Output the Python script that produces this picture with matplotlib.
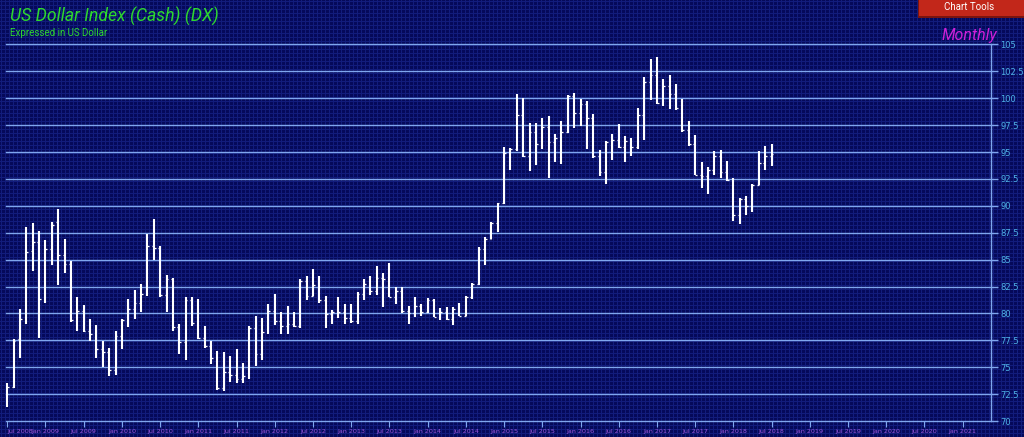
# US Dollar Index (DX) monthly OHLC bars, Jul 2008 - Jul 2018
import matplotlib.pyplot as plt
from matplotlib.patches import Rectangle
import numpy as np

# monthly OHLC, starting Jul 2008
opens = [72.5, 73.2, 77.6, 79.5, 85.8, 86.6,
         81.3, 86.0, 88.5, 85.4, 84.6, 79.4, 80.2, 78.4, 78.1, 76.7, 76.4, 74.7,
         77.9, 79.4, 80.4, 81.0, 81.8, 86.3, 86.1, 81.7, 83.2, 78.7, 77.3, 81.2,
         79.1, 77.7, 77.0, 75.9, 73.1, 74.6, 74.3, 73.9, 74.2, 78.6, 76.2, 78.3,
         80.2, 79.3, 78.8, 79.0, 78.8, 83.0, 81.6, 82.6, 81.2, 79.9, 80.1, 80.1,
         79.6, 79.3, 81.8, 82.7, 82.1, 83.3, 83.2, 81.5, 82.1, 80.2, 80.0, 80.7,
         80.1, 81.2, 79.7, 80.1, 79.5, 80.4, 79.8, 81.5, 82.7, 86.0, 86.9, 88.4,
         90.3, 94.9, 95.3, 98.4, 94.6, 96.9, 95.7, 97.3, 95.9, 96.3, 96.9, 100.2,
         98.6, 99.5, 98.2, 94.6, 93.1, 95.9, 96.1, 95.5, 96.0, 95.5, 98.4, 101.5,
         102.2, 99.6, 101.1, 100.4, 99.1, 97.0, 95.7, 92.9, 92.8, 93.3, 94.6, 93.1,
         92.4, 89.1, 90.6, 90.0, 91.9, 94.0, 94.6]
highs = [73.5, 77.6, 80.4, 88.0, 88.4, 87.7,
         86.8, 88.5, 89.7, 86.9, 84.9, 81.5, 80.8, 79.5, 78.9, 77.4, 76.8, 78.4,
         79.5, 81.3, 82.2, 82.7, 87.4, 88.8, 86.3, 83.6, 83.3, 79.0, 81.5, 81.5,
         81.3, 78.8, 77.4, 76.5, 76.4, 76.0, 76.7, 75.4, 78.8, 79.8, 79.6, 80.9,
         81.8, 80.1, 80.7, 80.1, 83.2, 83.5, 84.1, 83.5, 81.6, 80.3, 81.5, 80.9,
         80.9, 82.0, 83.2, 83.5, 84.4, 83.8, 84.7, 82.5, 82.5, 80.7, 81.5, 80.9,
         81.4, 81.3, 80.5, 80.6, 80.6, 81.0, 81.6, 82.8, 86.2, 87.1, 88.5, 90.3,
         95.5, 95.4, 100.4, 100.0, 97.7, 97.7, 98.2, 98.3, 96.7, 97.9, 100.3, 100.5,
         99.9, 99.7, 98.5, 95.2, 96.0, 96.7, 97.6, 96.5, 96.3, 99.1, 102.0, 103.6,
         103.8, 101.8, 102.2, 101.3, 99.9, 97.9, 96.6, 94.1, 93.6, 95.1, 95.2, 94.2,
         92.6, 90.7, 90.9, 92.0, 95.1, 95.6, 95.7]
lows = [71.3, 73.1, 75.9, 79.0, 83.9, 77.7,
        81.0, 84.5, 82.6, 83.8, 79.2, 78.4, 78.3, 77.4, 75.9, 75.0, 74.2, 74.3,
        76.7, 78.7, 79.5, 80.1, 81.6, 85.0, 81.5, 80.1, 78.4, 76.2, 75.7, 78.8,
        77.6, 76.8, 75.3, 72.9, 72.8, 73.6, 73.5, 73.5, 73.9, 75.1, 75.7, 78.1,
        78.9, 78.1, 78.1, 78.7, 78.6, 81.2, 81.6, 81.0, 78.6, 79.0, 79.6, 79.0,
        79.1, 79.0, 81.2, 81.7, 81.7, 80.6, 81.5, 80.9, 80.0, 79.0, 79.7, 79.8,
        80.0, 79.7, 79.4, 79.4, 78.9, 79.8, 79.8, 81.3, 82.6, 84.5, 86.9, 87.6,
        90.2, 93.3, 95.1, 94.5, 93.2, 93.8, 95.3, 92.6, 94.1, 93.9, 96.8, 97.2,
        97.4, 95.3, 94.4, 92.8, 92.0, 94.3, 95.4, 94.1, 94.6, 95.3, 96.1, 99.8,
        99.5, 99.3, 99.0, 98.9, 96.9, 95.6, 92.9, 91.7, 91.1, 92.9, 92.6, 92.3,
        88.6, 88.3, 89.1, 89.4, 91.9, 93.3, 93.7]
closes = [73.2, 77.4, 79.5, 85.7, 86.6, 81.3,
          86.0, 88.2, 85.4, 84.6, 79.4, 80.2, 78.4, 78.1, 76.7, 76.4, 74.7, 77.9,
          79.4, 80.4, 81.0, 81.8, 86.3, 86.1, 81.7, 83.2, 78.7, 77.3, 81.2, 79.1,
          77.7, 77.0, 75.9, 73.1, 74.6, 74.3, 73.9, 74.2, 78.6, 76.2, 78.3, 80.2,
          79.3, 78.8, 79.0, 78.8, 83.0, 81.6, 82.6, 81.2, 79.9, 80.1, 80.1, 79.6,
          79.3, 81.8, 82.7, 82.1, 83.3, 83.2, 81.5, 82.1, 80.2, 80.0, 80.7, 80.1,
          81.2, 79.7, 80.1, 79.5, 80.4, 79.8, 81.5, 82.7, 86.0, 86.9, 88.4, 90.3,
          94.9, 95.3, 98.4, 94.6, 96.9, 95.7, 97.3, 95.9, 96.3, 96.9, 100.2, 98.6,
          99.5, 98.2, 94.6, 93.1, 95.9, 96.1, 95.5, 96.0, 95.5, 98.4, 101.5, 102.2,
          99.6, 101.1, 100.4, 99.1, 97.0, 95.7, 92.9, 92.8, 93.3, 94.6, 93.1, 92.4,
          89.1, 90.6, 90.0, 91.9, 94.0, 94.6, 94.8]

xtick_labels = ['Jul 2008', 'Jan 2009', 'Jul 2009', 'Jan 2010', 'Jul 2010', 'Jan 2011',
                'Jul 2011', 'Jan 2012', 'Jul 2012', 'Jan 2013', 'Jul 2013', 'Jan 2014',
                'Jul 2014', 'Jan 2015', 'Jul 2015', 'Jan 2016', 'Jul 2016', 'Jan 2017',
                'Jul 2017', 'Jan 2018', 'Jul 2018', 'Jan 2019', 'Jul 2019', 'Jan 2020',
                'Jul 2020', 'Jan 2021']
ytick_values = [70, 72.5, 75, 77.5, 80, 82.5, 85, 87.5, 90, 92.5, 95, 97.5, 100, 102.5, 105]

W, H = 1024, 437
fig = plt.figure(figsize=(W / 100, H / 100), dpi=100)

# background: navy with a faint 4px grid pattern, one image pixel per screen pixel
bg = fig.add_axes([0, 0, 1, 1])
pattern = np.empty((H, W, 3))
pattern[:] = np.array([5, 9, 90]) / 255
pattern[1::4, :] = np.array([18, 28, 124]) / 255
pattern[:, 1::4] = np.array([18, 28, 124]) / 255
bg.imshow(pattern, interpolation='nearest', aspect='auto', extent=(0, W, 0, H))
bg.axis('off')

gridcol = '#7fa6ee'
ax = fig.add_axes([6 / W, 16 / H, 984.7 / W, 376.6 / H])
ax.patch.set_alpha(0)
ax.set_xlim(-0.2, 154.4)
ax.set_ylim(70, 105)

for v in ytick_values:
    ax.axhline(v, color=gridcol, lw=1.0, clip_on=False, zorder=1)

x = np.arange(len(opens))
ax.vlines(x, lows, highs, color='white', lw=1.5, zorder=3)
ax.hlines(opens, x - 0.28, x, color='white', lw=0.9, zorder=3)
ax.hlines(closes, x, x + 0.28, color='white', lw=0.9, zorder=3)

for s in ['left', 'top', 'bottom']:
    ax.spines[s].set_visible(False)
ax.spines['right'].set_color(gridcol)
ax.spines['right'].set_linewidth(1.0)

ax.yaxis.tick_right()
ax.set_yticks(ytick_values)
ax.set_yticklabels([('%g' % v) for v in ytick_values])
ax.tick_params(axis='y', colors=gridcol, labelcolor='#4fb3e6', labelsize=6,
               length=5, width=1, pad=2)
ax.set_xticks(np.arange(0, 151, 6))
ax.set_xticklabels(xtick_labels)
ax.tick_params(axis='x', colors=gridcol, labelcolor='#9b55d8', labelsize=4.6,
               length=4, width=0.8, pad=2)
ax.get_xticklabels()[0].set_ha('left')

fig.text(10 / W, 1 - 16 / H, 'US Dollar Index (Cash) (DX)', color='#2ed82e',
         fontsize=12.7, style='italic', family='Roboto', va='center', ha='left')
fig.text(10 / W, 1 - 33 / H, 'Expressed in US Dollar', color='#2ed82e',
         fontsize=7, family='Roboto', va='center', ha='left')
fig.text(997 / W, 1 - 43 / H, 'Monthly', color='#d020d8', fontsize=11.5,
         style='italic', family='Roboto', va='bottom', ha='right')

# Chart Tools button
fig.patches.append(Rectangle((918 / W, 1 - 18 / H), 106 / W, 18 / H,
                             transform=fig.transFigure, facecolor='#7a1410',
                             edgecolor='none', zorder=5))
fig.patches.append(Rectangle((919 / W, 1 - 16 / H), 105 / W, 16 / H,
                             transform=fig.transFigure, facecolor='#c2271a',
                             edgecolor='none', zorder=6))
fig.text(969 / W, 1 - 7.5 / H, 'Chart Tools', color='white', fontsize=7,
         family='Roboto', va='center', ha='center', zorder=7)

fig.savefig('out.png', dpi=100)
